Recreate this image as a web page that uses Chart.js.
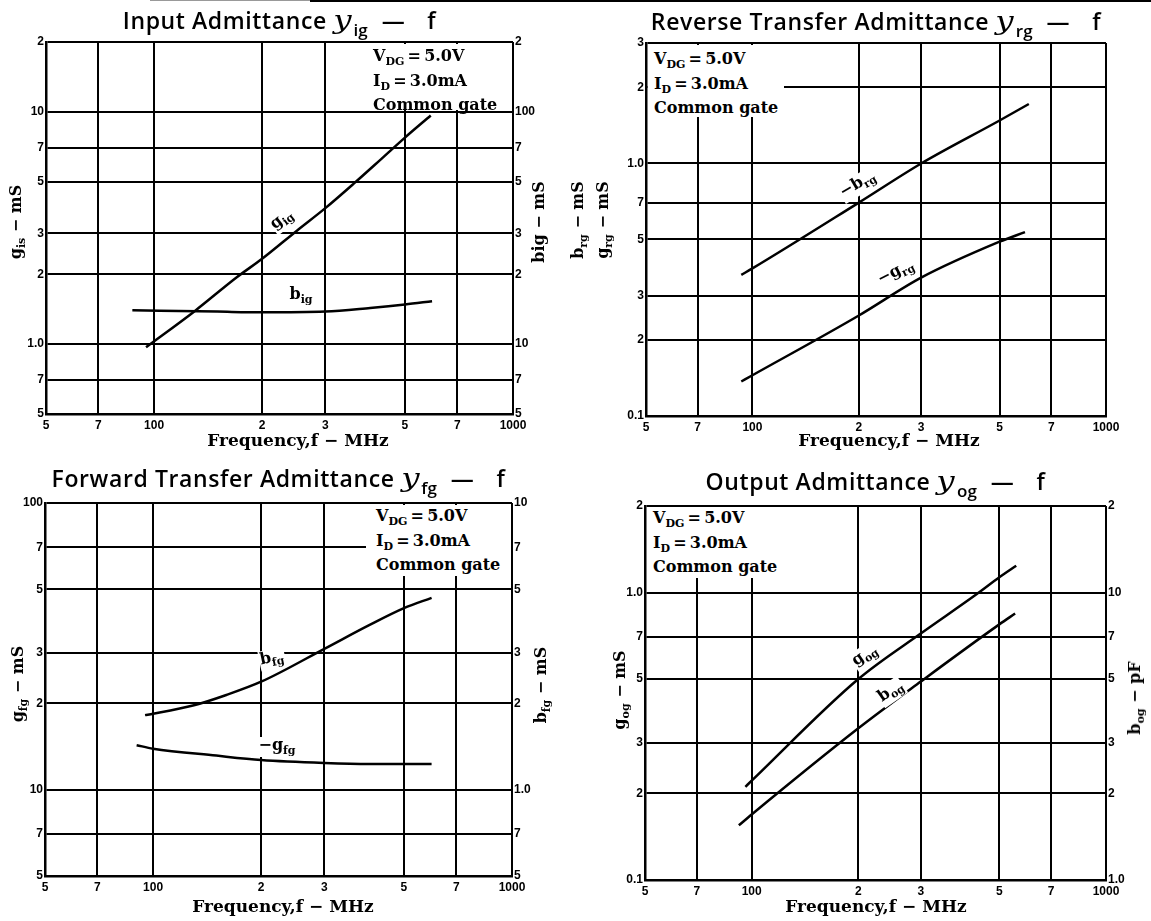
<!DOCTYPE html>
<html>
<head>
<meta charset="utf-8">
<title>Admittance vs frequency</title>
<script src="https://cdn.jsdelivr.net/npm/chart.js@4.4.1/dist/chart.umd.min.js"></script>
<style>
  body { margin: 0; background: #fff; }
  #page { position: relative; width: 1151px; height: 921px; overflow: hidden; background: #fff; color: #000; }
  canvas { position: absolute; }
  .topline { position: absolute; top: 0; height: 2px; background: #000; }
  .ttl { position: absolute; text-align: center; white-space: nowrap; font-family: "Open Sans", sans-serif; font-size: 23px; font-weight: 600; letter-spacing: 0.6px; line-height: 28px; }
  .ttl .y { display: inline-block; font-family: "DejaVu Serif", serif; font-style: italic; font-weight: normal; font-size: 26px; transform: scaleX(1.25); margin: 0 4px 0 8px; letter-spacing: 0; }
  .ttl .s { font-size: 17px; position: relative; top: 7px; letter-spacing: 0; }
  .ttl .d { margin: 0 22px 0 14px; }
  .note { position: absolute; background: #fff; font-family: "DejaVu Serif", serif; font-weight: bold; font-size: 16px; line-height: 22.5px; white-space: nowrap; box-sizing: border-box; }
  .sub { font-size: 11px; position: relative; top: 4px; }
  .xt { position: absolute; transform: translateX(-50%); font-family: "DejaVu Serif", serif; font-weight: bold; font-size: 17px; line-height: 20px; white-space: nowrap; }
  .yt { position: absolute; transform: translate(-50%, -50%) rotate(-90deg); font-family: "DejaVu Serif", serif; font-weight: bold; font-size: 16px; line-height: 18px; white-space: nowrap; }
  .lbl { position: absolute; background: #fff; font-family: "DejaVu Serif", serif; font-weight: bold; font-size: 16px; line-height: 14px; white-space: nowrap; padding: 1px 1px 3px 1px; }
</style>
</head>
<body>
<div id="page">
  <div class="topline" style="left:150px;width:160px;background:#999;height:1px;"></div>
  <div class="topline" style="left:310px;width:841px;"></div>

  <canvas id="cIn" width="557" height="406" style="left:1px;top:30px;"></canvas>
  <canvas id="cRev" width="550" height="407" style="left:601px;top:31px;"></canvas>
  <canvas id="cFwd" width="557" height="407" style="left:0px;top:491px;"></canvas>
  <canvas id="cOut" width="551" height="408" style="left:600px;top:494px;"></canvas>

  <!-- titles -->
  <div class="ttl" style="left:46px;width:467px;top:6px;">Input Admittance<span class="y">y</span><span class="s">ig</span><span class="d">—</span>f</div>
  <div class="ttl" style="left:646px;width:460px;top:7px;">Reverse Transfer Admittance<span class="y">y</span><span class="s">rg</span><span class="d">—</span>f</div>
  <div class="ttl" style="left:45px;width:467px;top:464px;">Forward Transfer Admittance<span class="y">y</span><span class="s">fg</span><span class="d">—</span>f</div>
  <div class="ttl" style="left:645px;width:461px;top:467px;">Output Admittance<span class="y">y</span><span class="s">og</span><span class="d">—</span>f</div>

  <!-- condition boxes -->
  <div class="note" style="left:370px;top:44px;width:141px;height:66px;padding:1px 0 0 3px;">V<span class="sub">DG</span>&thinsp;=&thinsp;5.0V<br>I<span class="sub">D</span>&thinsp;=&thinsp;3.0mA<br>Common gate</div>
  <div class="note" style="left:648px;top:45px;width:136px;height:72px;padding:3px 0 0 6px;">V<span class="sub">DG</span>&thinsp;=&thinsp;5.0V<br>I<span class="sub">D</span>&thinsp;=&thinsp;3.0mA<br>Common gate</div>
  <div class="note" style="left:366px;top:505px;width:145px;height:71px;padding:0 0 0 10px;">V<span class="sub">DG</span>&thinsp;=&thinsp;5.0V<br>I<span class="sub">D</span>&thinsp;=&thinsp;3.0mA<br>Common gate</div>
  <div class="note" style="left:647px;top:507px;width:131px;height:71px;padding:0 0 0 6px;">V<span class="sub">DG</span>&thinsp;=&thinsp;5.0V<br>I<span class="sub">D</span>&thinsp;=&thinsp;3.0mA<br>Common gate</div>

  <!-- x axis titles -->
  <div class="xt" style="left:298px;top:430px;">Frequency,f − MHz</div>
  <div class="xt" style="left:889px;top:430px;">Frequency,f − MHz</div>
  <div class="xt" style="left:283px;top:896px;">Frequency,f − MHz</div>
  <div class="xt" style="left:876px;top:896px;">Frequency,f − MHz</div>

  <!-- y axis titles -->
  <div class="yt" style="left:17px;top:222px;">g<span class="sub">is</span> − mS</div>
  <div class="yt" style="left:539px;top:222px;">big − mS</div>
  <div class="yt" style="left:579px;top:220px;">b<span class="sub">rg</span> − mS</div>
  <div class="yt" style="left:604px;top:220px;">g<span class="sub">rg</span> − mS</div>
  <div class="yt" style="left:19px;top:684px;">g<span class="sub">fg</span> − mS</div>
  <div class="yt" style="left:542px;top:685px;">b<span class="sub">fg</span> − mS</div>
  <div class="yt" style="left:621px;top:690px;">g<span class="sub">og</span> − mS</div>
  <div class="yt" style="left:1136px;top:698px;">b<span class="sub">og</span> − pF</div>

  <!-- curve labels -->
  <div class="lbl" style="left:282px;top:220px;transform:translate(-50%,-50%) rotate(-38deg);">g<span class="sub">ig</span></div>
  <div class="lbl" style="left:301px;top:296px;transform:translate(-50%,-50%);">b<span class="sub">ig</span></div>
  <div class="lbl" style="left:858px;top:185px;transform:translate(-50%,-50%) rotate(-31deg);">−b<span class="sub">rg</span></div>
  <div class="lbl" style="left:896px;top:273px;transform:translate(-50%,-50%) rotate(-27deg);">−g<span class="sub">rg</span></div>
  <div class="lbl" style="left:272px;top:659px;transform:translate(-50%,-50%) rotate(-12deg);">b<span class="sub">fg</span></div>
  <div class="lbl" style="left:277px;top:747px;transform:translate(-50%,-50%);">−g<span class="sub">fg</span></div>
  <div class="lbl" style="left:865px;top:656px;transform:translate(-50%,-50%) rotate(-35deg);">g<span class="sub">og</span></div>
  <div class="lbl" style="left:891px;top:692px;transform:translate(-50%,-50%) rotate(-35deg);">b<span class="sub">og</span></div>
</div>

<script>
// frequency axis, shared by all four plots (MHz)
const freqTicks = [50, 70, 100, 200, 300, 500, 700, 1000];
const freqLabels = ["5", "7", "100", "2", "3", "5", "7", "1000"];

// Input admittance (g_ig on left mS axis, b_ig on right mS axis)
const gigFreq = [95, 130, 170, 200, 250, 300, 360, 430, 500, 590];
const gigVals = [0.97, 1.39, 1.94, 2.33, 3.08, 3.85, 4.91, 6.28, 7.75, 9.65];
const bigFreq = [87, 150, 200, 300, 400, 500, 595];
const bigVals = [14.0, 13.8, 13.7, 13.8, 14.3, 14.8, 15.3];
const inLeftTicks = [0.5, 0.7, 1, 2, 3, 5, 7, 10, 20];
const inLeftLabels = ["5", "7", "1.0", "2", "3", "5", "7", "10", "2"];
const inRightTicks = [5, 7, 10, 20, 30, 50, 70, 100, 200];
const inRightLabels = ["5", "7", "10", "2", "3", "5", "7", "100", "2"];

// Reverse transfer admittance (-b_rg, -g_rg, mS)
const brgFreq = [93, 100, 200, 300, 500, 605];
const brgVals = [0.362, 0.384, 0.7, 1.0, 1.48, 1.72];
const grgFreq = [93, 100, 200, 300, 500, 590];
const grgVals = [0.137, 0.145, 0.25, 0.353, 0.49, 0.535];
const revTicks = [0.1, 0.2, 0.3, 0.5, 0.7, 1, 2, 3];
const revLabels = ["0.1", "2", "3", "5", "7", "1.0", "2", "3"];

// Forward transfer admittance (b_fg on right axis, -g_fg on left axis)
const bfgFreq = [95, 100, 130, 160, 200, 300, 400, 500, 597];
const bfgVals = [1.82, 1.84, 1.97, 2.14, 2.38, 3.1, 3.75, 4.3, 4.67];
const gfgFreq = [90, 100, 150, 200, 300, 400, 597];
const gfgVals = [14.3, 13.9, 13.15, 12.7, 12.4, 12.3, 12.3];
const fwdLeftTicks = [5, 7, 10, 20, 30, 50, 70, 100];
const fwdLeftLabels = ["5", "7", "10", "2", "3", "5", "7", "100"];
const fwdRightTicks = [0.5, 0.7, 1, 2, 3, 5, 7, 10];
const fwdRightLabels = ["5", "7", "1.0", "2", "3", "5", "7", "10"];

// Output admittance (g_og mS on left, b_og pF on right)
const gogFreq = [96, 100, 200, 300, 431, 500, 558];
const gogVals = [0.211, 0.2215, 0.5, 0.72, 0.986, 1.13, 1.24];
const bogFreq = [92, 100, 200, 300, 500, 554];
const bogVals = [1.55, 1.69, 3.37, 4.9, 7.75, 8.45];
const outLeftTicks = [0.1, 0.2, 0.3, 0.5, 0.7, 1, 2];
const outLeftLabels = ["0.1", "2", "3", "5", "7", "1.0", "2"];
const outRightTicks = [1, 2, 3, 5, 7, 10, 20];
const outRightLabels = ["1.0", "2", "3", "5", "7", "10", "2"];

const tickFont = { family: "Liberation Sans", size: 12, weight: "bold" };

function points(xs, ys) {
  return xs.map((x, i) => ({ x: x, y: ys[i] }));
}

function curve(xs, ys, axisId) {
  return {
    data: points(xs, ys),
    yAxisID: axisId,
    borderColor: "#000",
    borderWidth: 2.5,
    pointRadius: 0,
    fill: false,
    cubicInterpolationMode: "monotone",
  };
}

function logAxis(position, ticks, labels, main) {
  return {
    type: "logarithmic",
    position: position,
    min: ticks[0],
    max: ticks[ticks.length - 1],
    afterBuildTicks: (scale) => {
      scale.ticks = ticks.map((v) => ({ value: v }));
    },
    afterFit: (scale) => {
      if (position === "bottom") scale.height = 22;
      else scale.width = 45;
    },
    ticks: {
      autoSkip: false,
      maxRotation: 0,
      minRotation: 0,
      padding: position === "bottom" ? 4 : 2,
      color: "#000",
      font: tickFont,
      callback: (value, index) => labels[index],
    },
    grid: main
      ? { color: "#000", lineWidth: 2, drawTicks: false }
      : { drawOnChartArea: false, drawTicks: false },
    border: main ? { color: "#000", width: 2.5 } : { display: false },
  };
}

function makeChart(id, datasets, leftTicks, leftLabels, rightTicks, rightLabels) {
  const scales = {
    x: logAxis("bottom", freqTicks, freqLabels, true),
    y: logAxis("left", leftTicks, leftLabels, true),
  };
  if (rightTicks) {
    scales.yR = logAxis("right", rightTicks, rightLabels, false);
  }
  new Chart(document.getElementById(id).getContext("2d"), {
    type: "line",
    data: { datasets: datasets },
    options: {
      responsive: false,
      animation: false,
      layout: { padding: { top: 12, left: 0, right: rightTicks ? 0 : 45, bottom: 0 } },
      plugins: { legend: { display: false }, tooltip: { enabled: false }, title: { display: false } },
      scales: scales,
    },
  });
}

makeChart("cIn",
  [curve(gigFreq, gigVals, "y"), curve(bigFreq, bigVals, "yR")],
  inLeftTicks, inLeftLabels, inRightTicks, inRightLabels);

makeChart("cRev",
  [curve(brgFreq, brgVals, "y"), curve(grgFreq, grgVals, "y")],
  revTicks, revLabels, null, null);

makeChart("cFwd",
  [curve(bfgFreq, bfgVals, "yR"), curve(gfgFreq, gfgVals, "y")],
  fwdLeftTicks, fwdLeftLabels, fwdRightTicks, fwdRightLabels);

makeChart("cOut",
  [curve(gogFreq, gogVals, "y"), curve(bogFreq, bogVals, "yR")],
  outLeftTicks, outLeftLabels, outRightTicks, outRightLabels);
</script>
</body>
</html>
